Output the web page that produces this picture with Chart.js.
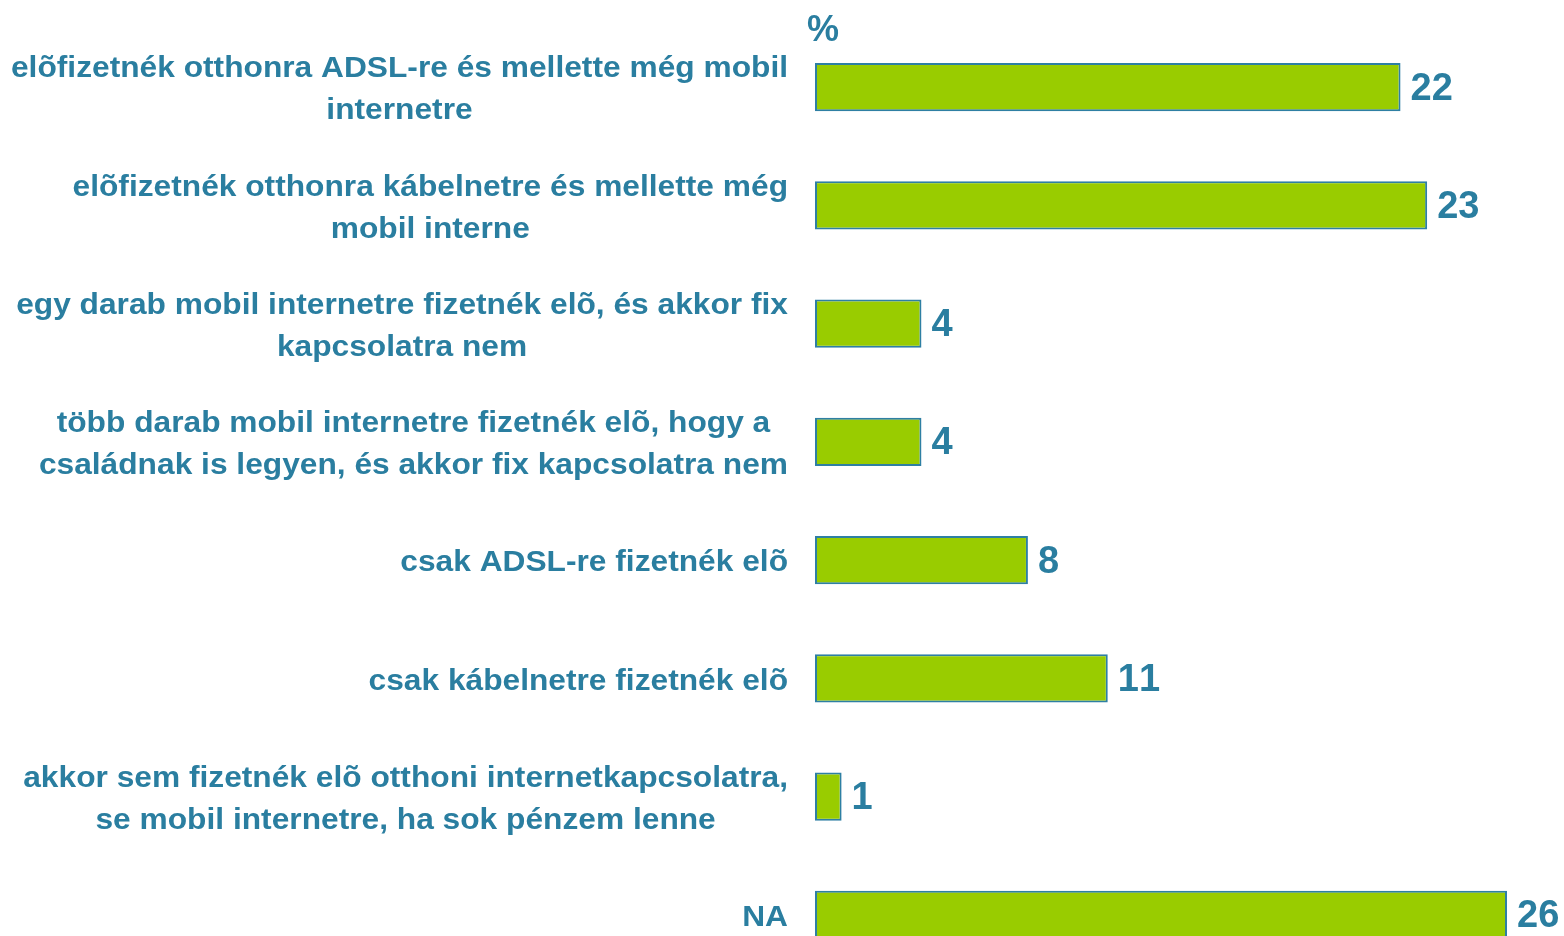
<!DOCTYPE html>
<html>
<head>
<meta charset="utf-8">
<script src="https://cdn.jsdelivr.net/npm/chart.js@4.4.1/dist/chart.umd.min.js"></script>
<style>
    html, body { margin: 0; padding: 0; background: #fff; overflow: hidden; }
    #wrap { position: relative; width: 1564px; height: 980px; }
    #unit {
        position: absolute; left: 807px; top: 8px;
        font: bold 36px "Liberation Sans", Arial, sans-serif; color: #2a7ea0;
    }
</style>
</head>
<body>
<div id="wrap">
    <canvas id="chart" width="1564" height="980"></canvas>
    <div id="unit">%</div>
</div>
<script>
// Category labels, one array of lines per bar
const categories = [
    ["elõfizetnék otthonra ADSL-re és mellette még mobil", "internetre"],
    ["elõfizetnék otthonra kábelnetre és mellette még", "mobil interne"],
    ["egy darab mobil internetre fizetnék elõ, és akkor fix", "kapcsolatra nem"],
    ["több darab mobil internetre fizetnék elõ, hogy a", "családnak is legyen, és akkor fix kapcsolatra nem"],
    ["csak ADSL-re fizetnék elõ"],
    ["csak kábelnetre fizetnék elõ"],
    ["akkor sem fizetnék elõ otthoni internetkapcsolatra,", "se mobil internetre, ha sok pénzem lenne"],
    ["NA"]
];
const shares = [22, 23, 4, 4, 8, 11, 1, 26];

const TEXT_COLOR = '#2a7ea0';
const BAR_FILL = '#99cc00';
const BAR_BORDER = '#2e7fa3';
const FONT = '"Liberation Sans", Arial, sans-serif';

// Multi-line category labels: each block is right-aligned, lines centred within it.
// The text is drawn slightly widened.
const categoryLabels = {
    id: 'categoryLabels',
    afterDraw(chart) {
        const ctx = chart.ctx;
        const yScale = chart.scales.y;
        const rightEdge = 788;
        const lineHeight = 42;
        const stretch = 1.057;
        ctx.save();
        ctx.font = 'bold 30px ' + FONT;
        ctx.fillStyle = TEXT_COLOR;
        ctx.textAlign = 'center';
        ctx.textBaseline = 'middle';
        categories.forEach((lines, i) => {
            const y = yScale.getPixelForValue(i);
            const maxW = Math.max(...lines.map(l => ctx.measureText(l).width)) * stretch;
            const cx = rightEdge - maxW / 2;
            const top = y - (lines.length - 1) * lineHeight / 2 + 3;
            lines.forEach((line, j) => {
                ctx.save();
                ctx.translate(cx, top + j * lineHeight);
                ctx.scale(stretch, 1);
                ctx.fillText(line, 0, 0);
                ctx.restore();
            });
        });
        ctx.restore();
    }
};

// Value labels at the end of each bar
const valueLabels = {
    id: 'valueLabels',
    afterDatasetsDraw(chart) {
        const ctx = chart.ctx;
        const meta = chart.getDatasetMeta(0);
        ctx.save();
        ctx.font = 'bold 38px ' + FONT;
        ctx.fontKerning = 'none';
        ctx.fillStyle = TEXT_COLOR;
        ctx.textAlign = 'left';
        ctx.textBaseline = 'middle';
        meta.data.forEach((bar, i) => {
            ctx.fillText(String(shares[i]), bar.x + 10, bar.y + 2);
        });
        ctx.restore();
    }
};

new Chart(document.getElementById('chart'), {
    type: 'bar',
    data: {
        labels: categories.map(l => l.join(' ')),
        datasets: [{
            data: shares,
            backgroundColor: BAR_FILL,
            borderColor: BAR_BORDER,
            borderWidth: 2,
            borderSkipped: false,
            categoryPercentage: 1,
            barPercentage: 0.406
        }]
    },
    options: {
        indexAxis: 'y',
        responsive: false,
        animation: false,
        layout: { padding: { left: 815, right: 57, top: 28, bottom: 6 } },
        scales: {
            x: { display: false, min: 0, max: 26 },
            y: { display: false }
        },
        plugins: {
            legend: { display: false },
            tooltip: { enabled: false }
        }
    },
    plugins: [categoryLabels, valueLabels]
});
</script>
</body>
</html>
